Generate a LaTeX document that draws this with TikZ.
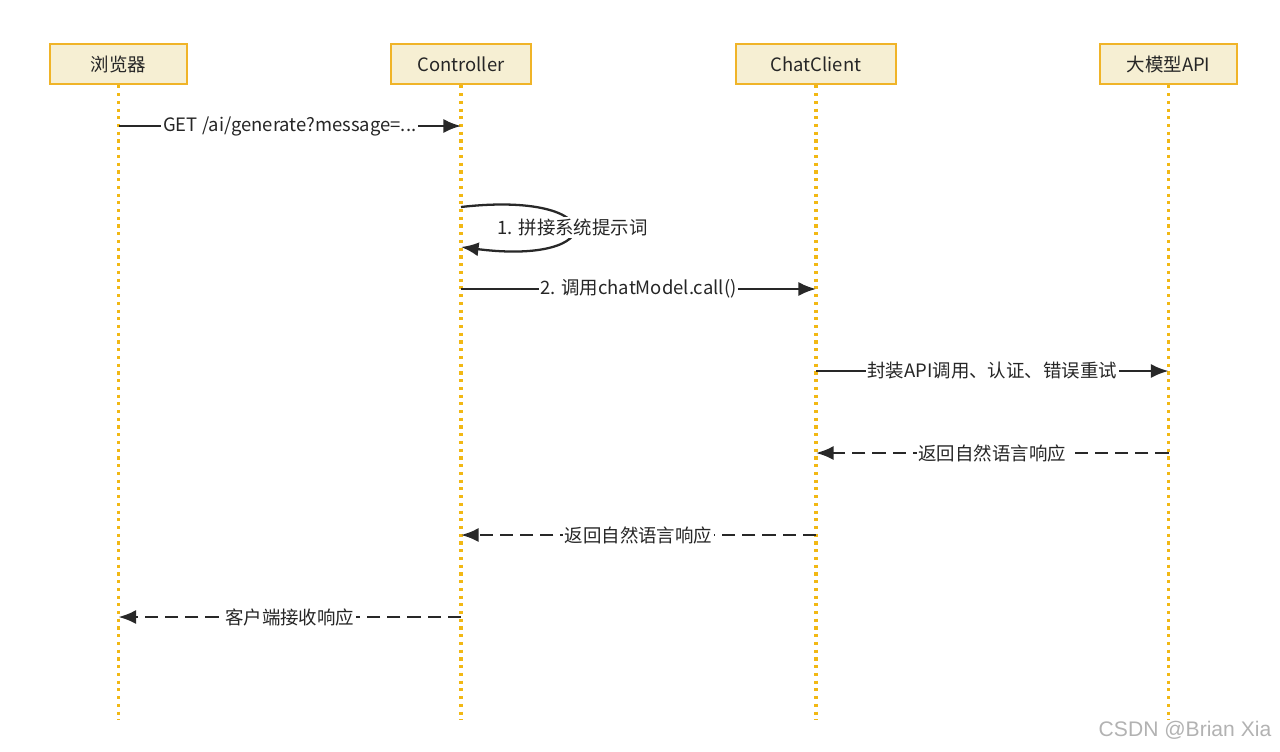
\documentclass[tikz,border=0pt]{standalone}
\usepackage{fontspec}
\setmainfont{Noto Sans CJK SC}
\newfontfamily\markfont{Liberation Sans}
\usetikzlibrary{arrows.meta}
\definecolor{boxfill}{RGB}{246,239,211}
\definecolor{boxline}{RGB}{240,180,40}
\definecolor{lifeline}{RGB}{242,184,20}
\definecolor{msgline}{RGB}{40,40,40}
\tikzset{
  actor/.style={draw=boxline, fill=boxfill, line width=1.5pt, minimum height=0.8cm, inner sep=0pt, font=\fontsize{10.5}{12}\selectfont, text=black!85},
  life/.style={draw=lifeline, line width=1.8pt, dash pattern=on 1.8pt off 2.6pt},
  msg/.style={draw=msgline, line width=1.3pt, -{Latex[length=10pt,width=8pt]}},
  reply/.style={msg, dash pattern=on 7.5pt off 4pt},
  lbl/.style={fill=white, inner sep=1pt, font=\fontsize{10.5}{12}\selectfont, text=black!85}
}
\begin{document}
\begin{tikzpicture}[x=0.02cm,y=-0.02cm]
            \useasboundingbox (0,0) rectangle (1280,751);

            % actors
            \node[actor, minimum width=2.74cm] (browser) at (118.5,64) {浏览器};
            \node[actor, minimum width=2.80cm] (ctrl) at (461,64) {Controller};
            \node[actor, minimum width=3.20cm] (client) at (816,64) {ChatClient};
            \node[actor, minimum width=2.74cm] (model) at (1168.5,64) {大模型API};

            % lifelines
            \coordinate (browserEnd) at (118.5,720);
            \coordinate (ctrlEnd) at (461,720);
            \coordinate (clientEnd) at (816,720);
            \coordinate (modelEnd) at (1168.5,720);
            \draw[life] (browser.south) -- (browserEnd);
            \draw[life] (ctrl.south) -- (ctrlEnd);
            \draw[life] (client.south) -- (clientEnd);
            \draw[life] (model.south) -- (modelEnd);

            % message ends
            \coordinate (m1a) at (118.5,126);
            \coordinate (m1b) at (461,126);
            \coordinate (m2a) at (461,207);
            \coordinate (m2b) at (461,247);
            \coordinate (m3a) at (461,289);
            \coordinate (m3b) at (816,289);
            \coordinate (m4a) at (816,371);
            \coordinate (m4b) at (1168.5,371);
            \coordinate (m5a) at (1168.5,453);
            \coordinate (m5b) at (816,453);
            \coordinate (m6a) at (816,535);
            \coordinate (m6b) at (461,535);
            \coordinate (m7a) at (461,617);
            \coordinate (m7b) at (118.5,617);

            \draw[msg] (m1a) -- node[lbl] {GET /ai/generate?message=...} (m1b);
            \draw[msg] (m2a) .. controls (610,190) and (610,266) .. node[lbl, pos=0.5] {1. 拼接系统提示词} (m2b);
            \draw[msg] (m3a) -- node[lbl] {2. 调用chatModel.call()} (m3b);
            \draw[msg] (m4a) -- node[lbl] {封装API调用、认证、错误重试} (m4b);
            \draw[reply] (m5a) -- node[lbl] {返回自然语言响应} (m5b);
            \draw[reply] (m6a) -- node[lbl] {返回自然语言响应} (m6b);
            \draw[reply] (m7a) -- node[lbl] {客户端接收响应} (m7b);

            \node[text=black!30, font=\markfont\fontsize{12}{14}\selectfont] (mark) at (1185,730) {CSDN @Brian Xia};
        \end{tikzpicture}
\end{document}
